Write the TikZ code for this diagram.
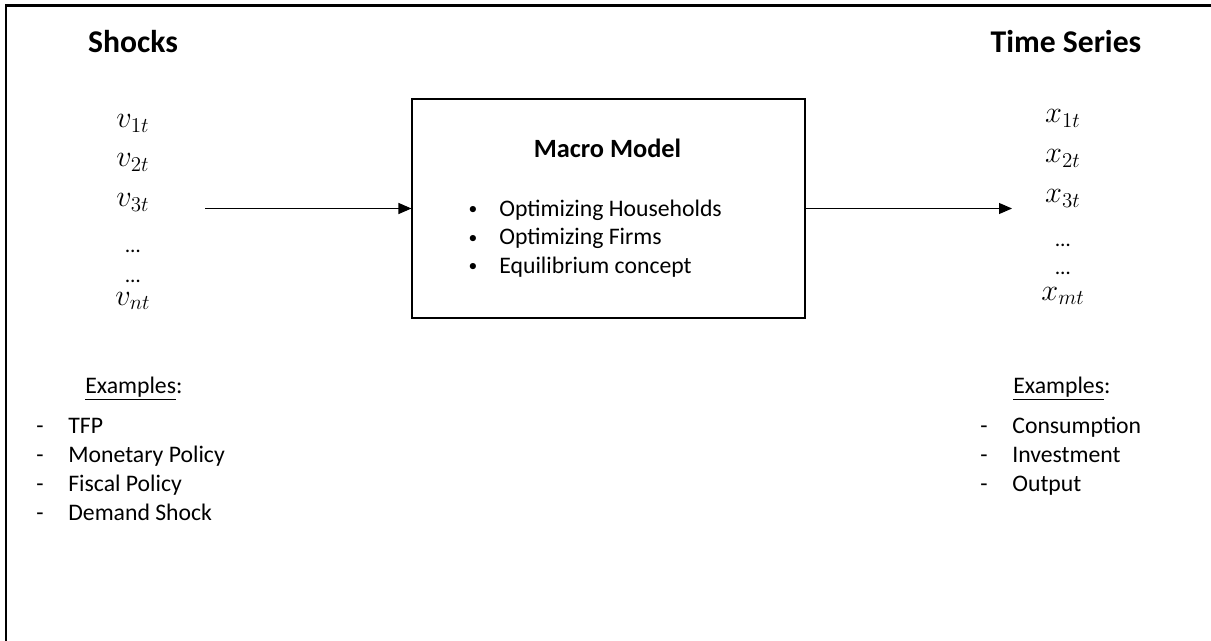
\documentclass[tikz,border=0pt]{standalone}
\usepackage{fontspec}
\setmainfont{Carlito}
\usetikzlibrary{arrows.meta,positioning}

\begin{document}
\begin{tikzpicture}[
    head/.style={font=\fontsize{18}{22}\selectfont\bfseries, anchor=base},
    var/.style={font=\fontsize{16.5}{19}\selectfont, anchor=base},
    dotsv/.style={font=\fontsize{12}{14}\selectfont, anchor=base},
    item/.style={font=\fontsize{13.5}{16}\selectfont, anchor=base west, inner sep=0pt},
    bul/.style={font=\fontsize{13.5}{16}\selectfont, anchor=base, inner sep=0pt},
    flow/.style={line width=0.6pt, -{Triangle[length=0.26cm, width=0.22cm]}}
  ]
  \useasboundingbox (0,0) rectangle (24.22,-12.82);

  % Frame, left and top only
  \draw[line width=1.4pt] (0.12,-12.82) -- (0.12,-0.11) -- (24.22,-0.11);

  % Headings
  \node[head] (shocks) at (2.66,-1.06) {Shocks};
  \node[head] (series) at (21.32,-1.06) {Time Series};

  % Shocks column
  \node[var] (v1) at (2.66,-2.56) {$v_{1t}$};
  \node[var] (v2) at (2.66,-3.34) {$v_{2t}$};
  \node[var] (v3) at (2.66,-4.14) {$v_{3t}$};
  \node[dotsv] (vd1) at (2.66,-5.04) {…};
  \node[dotsv] (vd2) at (2.66,-5.64) {…};
  \node[var] (vn) at (2.66,-6.10) {$v_{nt}$};

  % Time series column
  \node[var] (x1) at (21.26,-2.46) {$x_{1t}$};
  \node[var] (x2) at (21.26,-3.26) {$x_{2t}$};
  \node[var] (x3) at (21.26,-4.06) {$x_{3t}$};
  \node[dotsv] (xd1) at (21.26,-4.94) {…};
  \node[dotsv] (xd2) at (21.26,-5.50) {…};
  \node[var] (xm) at (21.26,-6.00) {$x_{mt}$};

  % The model
  \node[draw, line width=0.6pt, minimum width=7.86cm, minimum height=4.38cm]
    (model) at (12.17,-4.17) {};
  \node[anchor=base, font=\fontsize{15}{18}\selectfont\bfseries]
    (title) at (12.15,-3.16) {Macro Model};
  \node[bul, font=\fontsize{10}{12}\selectfont] (b1) at (9.46,-4.30) {•};
  \node[bul, font=\fontsize{10}{12}\selectfont] (b2) at (9.46,-4.86) {•};
  \node[bul, font=\fontsize{10}{12}\selectfont] (b3) at (9.46,-5.42) {•};
  \node[item] (hh) at (9.98,-4.34) {Optimizing Households};
  \node[item] (firms) at (9.98,-4.90) {Optimizing Firms};
  \node[item] (eq) at (9.98,-5.46) {Equilibrium concept};

  % Arrows
  \coordinate (in) at (4.1,-4.17);
  \coordinate (out) at (20.24,-4.17);
  \draw[flow] (in) -- (model.west);
  \draw[flow] (model.east) -- (out);

  % Examples, shocks
  \node[item] (exl) at (1.7,-7.86) {\underline{Examples}:};
  \node[bul] (dl1) at (0.8,-8.66) {-};
  \node[bul] (dl2) at (0.8,-9.24) {-};
  \node[bul] (dl3) at (0.8,-9.82) {-};
  \node[bul] (dl4) at (0.8,-10.40) {-};
  \node[item] (tfp) at (1.36,-8.66) {TFP};
  \node[item] (mon) at (1.36,-9.24) {Monetary Policy};
  \node[item] (fis) at (1.36,-9.82) {Fiscal Policy};
  \node[item] (dem) at (1.36,-10.40) {Demand Shock};

  % Examples, time series
  \node[item] (exr) at (20.26,-7.86) {\underline{Examples}:};
  \node[bul] (dr1) at (19.68,-8.66) {-};
  \node[bul] (dr2) at (19.68,-9.24) {-};
  \node[bul] (dr3) at (19.68,-9.82) {-};
  \node[item] (cons) at (20.24,-8.66) {Consumption};
  \node[item] (inv) at (20.24,-9.24) {Investment};
  \node[item] (outp) at (20.24,-9.82) {Output};
\end{tikzpicture}
\end{document}
